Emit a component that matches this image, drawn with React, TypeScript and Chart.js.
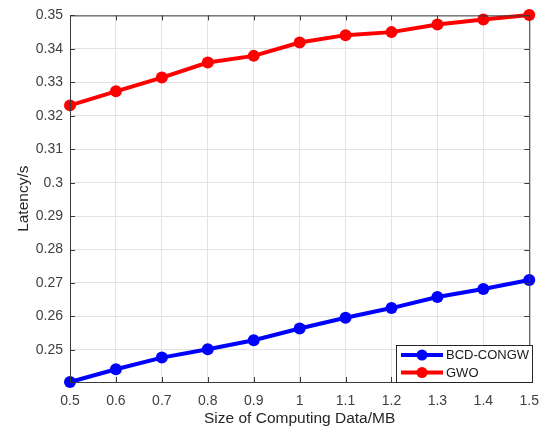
import React, { useEffect, useRef } from "react";
import { Chart, registerables } from "chart.js";

Chart.register(...registerables);

// Data size (MB) on the x axis
const dataSizes = [0.5, 0.6, 0.7, 0.8, 0.9, 1.0, 1.1, 1.2, 1.3, 1.4, 1.5];
// Latency (s) for each algorithm
const bcdCongw = [0.2404, 0.2442, 0.2477, 0.2502, 0.2529, 0.2564, 0.2596, 0.2625, 0.2658, 0.2682, 0.2709];
const gwo = [0.3231, 0.3273, 0.3314, 0.3359, 0.3379, 0.3419, 0.3441, 0.345, 0.3473, 0.3488, 0.3501];
const yTicks = [0.25, 0.26, 0.27, 0.28, 0.29, 0.3, 0.31, 0.32, 0.33, 0.34, 0.35];
const xTicks = [0.5, 0.6, 0.7, 0.8, 0.9, 1.0, 1.1, 1.2, 1.3, 1.4, 1.5];
const seriesNames = ["BCD-CONGW", "GWO"];
const seriesColors = ["#0000ff", "#ff0000"];

const FONT = "'Liberation Sans', Arial, Helvetica, sans-serif";
const AXIS_COLOR = "#3a3a3a";

// Box outline, inward tick marks and an in-plot legend, MATLAB style
const frameAndLegend = {
  id: "frameAndLegend",
  afterDatasetsDraw(chart: any) {
    const { ctx, chartArea } = chart;
    const { left, right, top, bottom } = chartArea;
    const xs = chart.scales.x;
    const ys = chart.scales.y;
    ctx.save();
    ctx.strokeStyle = AXIS_COLOR;
    ctx.lineWidth = 1;
    ctx.beginPath();
    ctx.rect(left + 0.5, top + 0.5, right - left, bottom - top);
    ctx.stroke();
    const tl = 5;
    ctx.beginPath();
    xTicks.forEach((v) => {
      const px = Math.round(xs.getPixelForValue(v)) + 0.5;
      ctx.moveTo(px, bottom);
      ctx.lineTo(px, bottom - tl);
      ctx.moveTo(px, top);
      ctx.lineTo(px, top + tl);
    });
    yTicks.forEach((v) => {
      const py = Math.round(ys.getPixelForValue(v)) + 0.5;
      ctx.moveTo(left, py);
      ctx.lineTo(left + tl, py);
      ctx.moveTo(right, py);
      ctx.lineTo(right - tl, py);
    });
    ctx.stroke();

    // legend
    const bx = 396, by = 345, bw = 136, bh = 37;
    ctx.fillStyle = "#ffffff";
    ctx.fillRect(bx, by, bw, bh);
    ctx.strokeStyle = "#262626";
    ctx.strokeRect(bx + 0.5, by + 0.5, bw, bh);
    seriesNames.forEach((name, i) => {
      const y = by + 10 + i * 17.5;
      ctx.strokeStyle = seriesColors[i];
      ctx.lineWidth = 4;
      ctx.beginPath();
      ctx.moveTo(401, y);
      ctx.lineTo(443, y);
      ctx.stroke();
      ctx.fillStyle = seriesColors[i];
      ctx.beginPath();
      ctx.arc(422, y, 5.5, 0, Math.PI * 2);
      ctx.fill();
      ctx.fillStyle = "#1a1a1a";
      ctx.font = `13px ${FONT}`;
      ctx.textBaseline = "middle";
      ctx.textAlign = "left";
      ctx.fillText(name, 446, y + 0.5);
    });
    ctx.restore();
  },
};

export default function App() {
  const ref = useRef<HTMLCanvasElement>(null);

  useEffect(() => {
    if (!ref.current) return;
    const chart = new Chart(ref.current, {
      type: "line",
      data: {
        datasets: [
          {
            label: seriesNames[0],
            data: dataSizes.map((x, i) => ({ x, y: bcdCongw[i] })),
            borderColor: seriesColors[0],
            backgroundColor: seriesColors[0],
            borderWidth: 4,
            pointRadius: 6,
            pointBorderWidth: 0,
            clip: false,
          },
          {
            label: seriesNames[1],
            data: dataSizes.map((x, i) => ({ x, y: gwo[i] })),
            borderColor: seriesColors[1],
            backgroundColor: seriesColors[1],
            borderWidth: 4,
            pointRadius: 6,
            pointBorderWidth: 0,
            clip: false,
          },
        ],
      },
      options: {
        animation: false,
        responsive: false,
        maintainAspectRatio: false,
        layout: { padding: { left: 0, right: 19, top: 15, bottom: 0 } },
        plugins: {
          legend: { display: false },
          tooltip: { enabled: false },
        },
        scales: {
          x: {
            type: "linear",
            min: 0.5,
            max: 1.5,
            border: { display: false },
            grid: { color: "#e3e3e3", drawTicks: false, lineWidth: 1 },
            afterBuildTicks: (s: any) => {
              s.ticks = xTicks.map((v) => ({ value: v }));
            },
            afterFit: (s: any) => {
              s.height = 48;
            },
            ticks: {
              padding: 11,
              color: "#404040",
              font: { family: FONT, size: 14 },
              maxRotation: 0,
              callback: (v: any) => String(Number(v.toFixed(1))),
            },
            title: {
              display: true,
              text: "Size of Computing Data/MB",
              color: "#262626",
              font: { family: FONT, size: 15.5 },
              padding: { top: 2, bottom: 2 },
            },
          },
          y: {
            type: "linear",
            min: 0.2404,
            max: 0.35,
            border: { display: false },
            grid: { color: "#e3e3e3", drawTicks: false, lineWidth: 1 },
            afterBuildTicks: (s: any) => {
              s.ticks = yTicks.map((v) => ({ value: v }));
            },
            afterFit: (s: any) => {
              s.width = 70;
            },
            ticks: {
              padding: 7,
              color: "#404040",
              font: { family: FONT, size: 14 },
              callback: (v: any) => String(Number(Number(v).toFixed(2))),
            },
            title: {
              display: true,
              text: "Latency/s",
              color: "#262626",
              font: { family: FONT, size: 15.5 },
              padding: { top: 14, bottom: 4 },
            },
          },
        },
      },
      plugins: [frameAndLegend],
    });
    return () => chart.destroy();
  }, []);

  return (
    <div style={{ position: "absolute", left: 0, top: 0, width: 550, height: 430, background: "#fff" }}>
      <canvas ref={ref} width={550} height={430} style={{ width: 550, height: 430 }} />
    </div>
  );
}
